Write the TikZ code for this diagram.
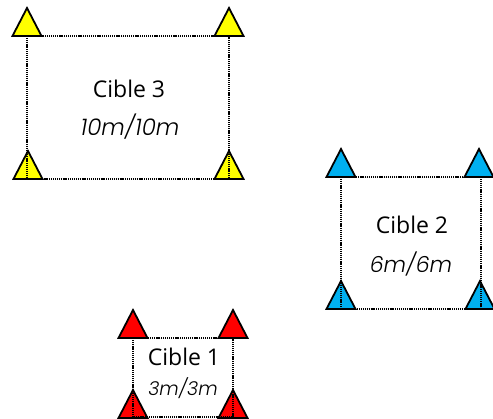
\documentclass[tikz,border=0pt]{standalone}
\usepackage{fontspec}
\setmainfont{Open Sans}
\newfontfamily\dimfont{Poppins}[ItalicFont={* Light Italic}]
\definecolor{tyellow}{HTML}{FFFF00}
\definecolor{tblue}{HTML}{00B0F0}
\definecolor{tred}{HTML}{FF0000}
\begin{document}
\begin{tikzpicture}[x=1pt,y=-1pt,
  cone/.style={draw=black,line width=1.8pt,line join=miter},
  zone/.style={draw=black,line width=1.6pt,dash pattern=on 1.1pt off 0.8pt},
  title/.style={font=\fontsize{23}{27}\selectfont,inner sep=0pt},
  dims/.style={font=\dimfont\itshape\fontsize{23}{27}\selectfont,inner sep=0pt}]
\useasboundingbox (0,0) rectangle (493,419);
\newcommand{\conetri}[3]{\filldraw[cone,fill=#3] (#1-14.5,#2) -- (#1,#2-28) -- (#1+14.5,#2) -- cycle;}
% Cible 3
\conetri{27}{36}{tyellow}
\conetri{229}{36}{tyellow}
\conetri{28}{179}{tyellow}
\conetri{229}{179}{tyellow}
\coordinate (c3a) at (27,36);
\coordinate (c3b) at (229,179);
\draw[zone] (c3a) rectangle (c3b);
\node[title] (t3) at (129,89) {Cible 3};
\node[dims] (d3) at (130,127) {10m/10m};
% Cible 2
\conetri{341}{177}{tblue}
\conetri{479}{177}{tblue}
\conetri{341}{309}{tblue}
\conetri{480}{309}{tblue}
\coordinate (c2a) at (341,177);
\coordinate (c2b) at (481,309);
\draw[zone] (c2a) rectangle (c2b);
\node[title] (t2) at (412,225) {Cible 2};
\node[dims,font=\dimfont\itshape\fontsize{22}{26}\selectfont] (d2) at (411,264) {6m/6m};
% Cible 1
\conetri{133}{338}{tred}
\conetri{233}{338}{tred}
\conetri{133}{418}{tred}
\conetri{233}{418}{tred}
\coordinate (c1a) at (133,338);
\coordinate (c1b) at (233,417);
\draw[zone] (c1a) rectangle (c1b);
\node[title] (t1) at (184,357) {Cible 1};
\node[dims,font=\dimfont\itshape\fontsize{19}{23}\selectfont] (d1) at (183,388) {3m/3m};
\end{tikzpicture}
\end{document}
